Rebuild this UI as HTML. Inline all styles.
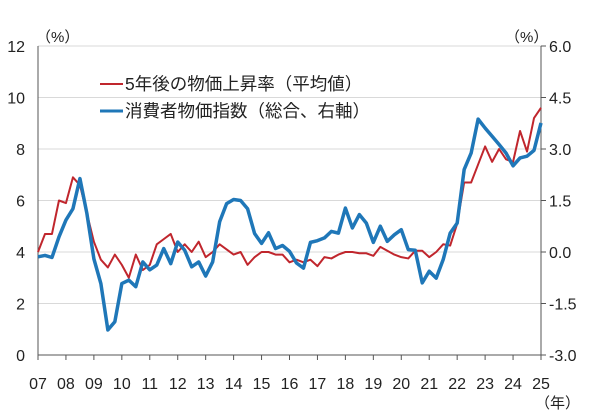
<!DOCTYPE html>
<html><head><meta charset="utf-8">
<style>
html,body{margin:0;padding:0;background:#fff;}
svg{display:block;font-family:"Liberation Sans","Noto Sans CJK JP",sans-serif;}
</style></head>
<body>
<svg id="chart" width="600" height="419" viewBox="0 0 600 419"></svg>
<script>
const xLabels = ["07","08","09","10","11","12","13","14","15","16","17","18","19","20","21","22","23","24","25"];
const leftTicks = [0,2,4,6,8,10,12];
const rightTicks = ["-3.0","-1.5","0.0","1.5","3.0","4.5","6.0"];
const expectedInflation = [4.0,4.7,4.7,6.0,5.9,6.9,6.6,5.5,4.4,3.7,3.4,3.9,3.5,3.0,3.9,3.3,3.5,4.3,4.5,4.7,4.0,4.3,4.0,4.4,3.8,4.0,4.3,4.1,3.9,4.0,3.5,3.8,4.0,4.0,3.9,3.9,3.6,3.7,3.6,3.7,3.45,3.8,3.75,3.9,4.0,4.0,3.95,3.95,3.85,4.2,4.05,3.9,3.8,3.75,4.05,4.05,3.8,4.0,4.3,4.25,5.1,6.7,6.7,7.4,8.1,7.5,8.0,7.6,7.5,8.7,7.9,9.2,9.6];
const cpi = [-0.14,-0.1,-0.16,0.44,0.93,1.26,2.14,1.12,-0.2,-0.92,-2.27,-2.03,-0.92,-0.82,-1.01,-0.29,-0.52,-0.38,0.1,-0.34,0.29,0.05,-0.43,-0.29,-0.7,-0.29,0.88,1.41,1.53,1.5,1.26,0.54,0.25,0.56,0.1,0.19,0.02,-0.32,-0.47,0.28,0.33,0.41,0.6,0.55,1.28,0.7,1.09,0.84,0.28,0.75,0.31,0.5,0.65,0.07,0.05,-0.9,-0.56,-0.76,-0.22,0.55,0.84,2.4,2.88,3.87,3.61,3.37,3.13,2.88,2.51,2.74,2.79,2.96,3.76];

const NS="http://www.w3.org/2000/svg";
const svg=document.getElementById('chart');
const X0=38,X1=541,Y0=355,Y1=46;
const xq=i=>X0+(X1-X0)*i/72;
const yL=v=>Y0-(Y0-Y1)*v/12;
const yR=v=>Y0-(Y0-Y1)*(v+3)/9;
function mk(t,a,txt){const e=document.createElementNS(NS,t);for(const k in a)e.setAttribute(k,a[k]);if(txt!=null)e.textContent=txt;svg.appendChild(e);return e;}

leftTicks.forEach((v,i)=>{
  if(v>0){const g=mk('line',{x1:X0,x2:X1,y1:yL(v),y2:yL(v),stroke:'#d9d9d9','stroke-width':1});
  
  }
  const t=mk('text',{x:25,y:yL(v)+6,'text-anchor':'end','font-size':16,fill:'#222'},String(v));
  
  
  const r=mk('text',{x:549,y:yL(v)+6,'font-size':16,fill:'#222'},rightTicks[i]);
  
  
  const rt=mk('line',{x1:X1,x2:X1+5,y1:yL(v),y2:yL(v),stroke:'#555'});
  
  
});
let a=mk('line',{x1:X0,x2:X0,y1:Y1,y2:Y0,stroke:'#555'});


a=mk('line',{x1:X1,x2:X1,y1:Y1,y2:Y0,stroke:'#555'});


a=mk('line',{x1:X0,x2:X1,y1:Y0,y2:Y0,stroke:'#555'});


xLabels.forEach((l,i)=>{
  const x=xq(i*4);
  const tk=mk('line',{x1:x,x2:x,y1:Y0,y2:Y0+5,stroke:'#555'});
  
  
  const t=mk('text',{x:x,y:389,'text-anchor':'middle','font-size':16,fill:'#222'},l);
  
  
});
let t=mk('text',{x:36,y:42,'font-size':15,fill:'#222'},'（%）');


t=mk('text',{x:505,y:42,'font-size':15,fill:'#222'},'（%）');


t=mk('text',{x:535,y:408,'font-size':15,fill:'#222'},'（年）');



let p=mk('polyline',{points:expectedInflation.map((v,i)=>xq(i)+','+yL(v)).join(' '),fill:'none',stroke:'#c0262d','stroke-width':2,'stroke-linejoin':'round'});


p=mk('polyline',{points:cpi.map((v,i)=>xq(i)+','+yR(v)).join(' '),fill:'none',stroke:'#1f77b8','stroke-width':3.5,'stroke-linejoin':'round'});



let l=mk('line',{x1:100,x2:123,y1:84,y2:84,stroke:'#c0262d','stroke-width':2});


t=mk('text',{x:125,y:90,'font-size':17.5,fill:'#222'},'5年後の物価上昇率（平均値）');


l=mk('line',{x1:100,x2:123,y1:111,y2:111,stroke:'#1f77b8','stroke-width':3});


t=mk('text',{x:125,y:117,'font-size':17.5,fill:'#222'},'消費者物価指数（総合、右軸）');


</script>
</body></html>
